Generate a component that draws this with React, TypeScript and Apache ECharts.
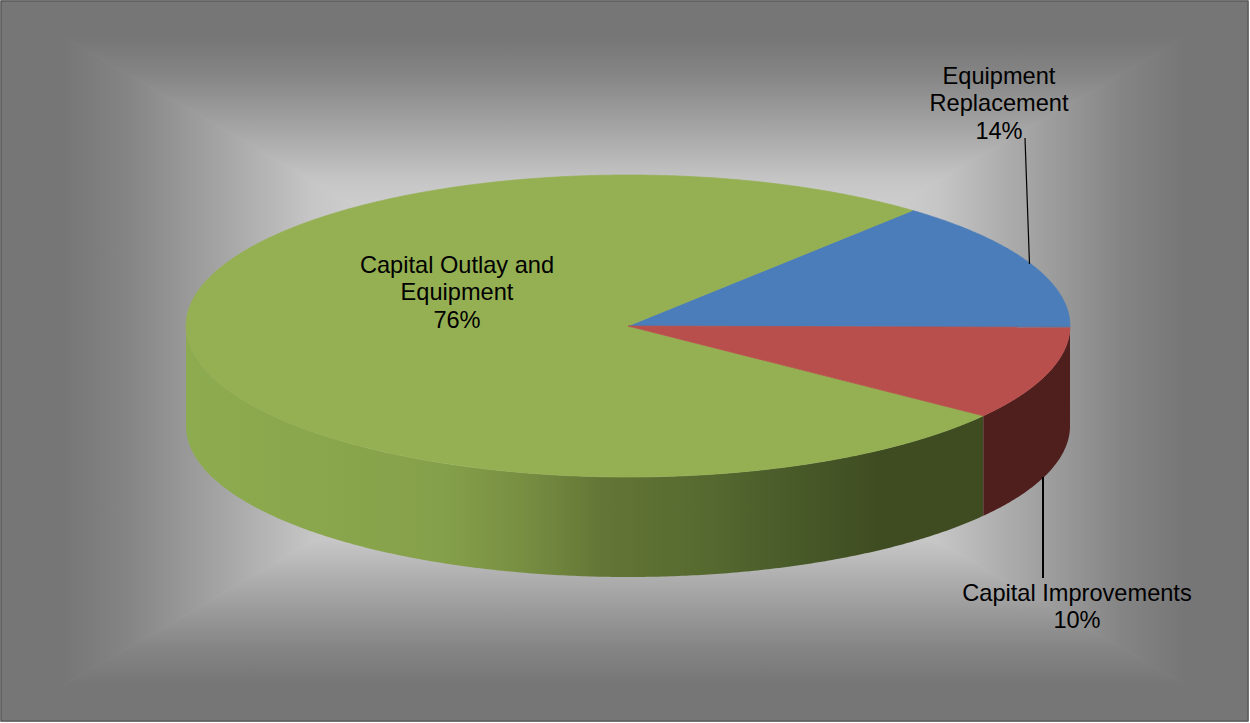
import React, { useEffect, useRef } from "react";
import * as echarts from "echarts";

// Budget shares, in percent, in counter-clockwise drawing order from 3 o'clock.
const categories = ["Equipment\nReplacement", "Capital Outlay and\nEquipment", "Capital Improvements"];
const shares = [14, 76, 10];
const topColors = ["#4a7db9", "#95b053", "#b94f4c"];

const WIDTH = 1250;
const HEIGHT = 723;

// Disc geometry
const CX = 628;
const CY = 326;
const RX = 442;
const RY = 151;
const DEPTH = 100;
const START_ANGLE = -0.5;

// Label anchors (centre x, top of the text block)
const labelAnchors = [
  { x: 999, y: 62 },
  { x: 457, y: 251 },
  { x: 1077, y: 579 },
];
const leaders = [
  { x1: 1025, y1: 138, x2: 1029.5, y2: 264, w: 1.2 },
  { x1: 1043, y1: 477, x2: 1043, y2: 578, w: 2 },
];

const FONT = "'Liberation Sans', Arial, sans-serif";

const rimPoint = (deg: number, drop = 0): number[] => {
  const t = (deg * Math.PI) / 180;
  return [CX + RX * Math.cos(t), CY - RY * Math.sin(t) + drop];
};

const arc = (from: number, to: number, drop = 0): number[][] => {
  const steps = Math.max(2, Math.ceil(Math.abs(to - from) * 2));
  const out: number[][] = [];
  for (let i = 0; i <= steps; i++) out.push(rimPoint(from + ((to - from) * i) / steps, drop));
  return out;
};

const grad = (x: number, y: number, x2: number, y2: number, stops: [number, string][]) =>
  new echarts.graphic.LinearGradient(
    x,
    y,
    x2,
    y2,
    stops.map(([offset, color]) => ({ offset, color })),
  );

// Rectangular backdrop: brightest in the middle, falling to dark grey at each edge.
const shadeStops: [number, string][] = [
  [0, "#767676"],
  [0.1, "#767676"],
  [0.2, "#848484"],
  [0.36, "#a6a6a6"],
  [0.5, "#c6c6c6"],
  [0.62, "#d2d2d2"],
  [1, "#e8e8e8"],
];

const backdrop = () => {
  const L = 1;
  const T = 1;
  const R = 1248;
  const B = 721;
  const MX = 625;
  const MY = 361;
  const tri = (pts: number[][], g: echarts.graphic.LinearGradient) => ({
    type: "polygon",
    silent: true,
    shape: { points: pts },
    style: { fill: g, stroke: g, lineWidth: 1 },
  });
  return [
    tri([[L, T], [R, T], [MX, MY]], grad(0, 0, 0, 1, shadeStops)),
    tri([[L, B], [R, B], [MX, MY]], grad(0, 1, 0, 0, shadeStops)),
    tri([[L, T], [L, B], [MX, MY]], grad(0, 0, 1, 0, shadeStops)),
    tri([[R, T], [R, B], [MX, MY]], grad(1, 0, 0, 0, shadeStops)),
    {
      type: "rect",
      silent: true,
      shape: { x: L, y: T, width: R - L, height: B - T },
      style: { fill: "transparent", stroke: "#5c5c5c", lineWidth: 1.5 },
    },
  ];
};

const renderSlice = (params: any, api: any) => {
  const i = params.dataIndex;
  const total = shares.reduce((a, b) => a + b, 0);
  const before = shares.slice(0, i).reduce((a, b) => a + b, 0);
  const start = START_ANGLE + (before / total) * 360;
  const end = start + ((api.value(0) as number) / total) * 360;

  const children: any[] = [];

  // Only the part of the rim facing the viewer (180 to 360 degrees) gets a wall.
  const wallFrom = Math.max(start, 180);
  const wallTo = Math.min(end, 360);
  if (wallTo > wallFrom) {
    const pts = [...arc(wallFrom, wallTo), ...arc(wallTo, wallFrom, DEPTH)];
    const isGreen = i === 1;
    children.push({
      type: "polygon",
      shape: { points: pts },
      style: {
        fill: isGreen
          ? grad(0, 0, 1, 0, [
              [0, "#8dab4f"],
              [0.18, "#8aa64c"],
              [0.32, "#85a04a"],
              [0.42, "#788f42"],
              [0.52, "#647636"],
              [0.65, "#566a30"],
              [0.75, "#4a5c2a"],
              [0.87, "#3f4c21"],
              [1, "#3f4c21"],
            ])
          : "#4f1f1e",
      },
    });
  }

  // Top face; the hairline stroke closes the seam between neighbouring slices.
  children.push({
    type: "polygon",
    shape: { points: [[CX, CY], ...arc(start, end)] },
    style: { fill: topColors[i], stroke: topColors[i], lineWidth: 0.7 },
  });

  return { type: "group", children };
};

// Labels sit above every slice, so they are a second pass over the same values.
const renderLabel = (params: any, api: any) => {
  const i = params.dataIndex;
  const a = labelAnchors[i];
  return {
    type: "text",
    style: {
      x: a.x,
      y: a.y,
      text: `${categories[i]}\n${api.value(0)}%`,
      fill: "#000000",
      fontSize: 23.6,
      fontFamily: FONT,
      lineHeight: 27.5,
      align: "center",
      verticalAlign: "top",
    },
  };
};

export default function App() {
  const ref = useRef<HTMLDivElement>(null);

  useEffect(() => {
    const chart = echarts.init(ref.current!, null, { renderer: "svg" });
    chart.setOption({
      animation: false,
      backgroundColor: "#ffffff",
      graphic: {
        elements: [
          ...backdrop().map((e) => ({ ...e, z: -10 })),
          ...leaders.map((l) => ({
            type: "line",
            silent: true,
            z: 10,
            shape: { x1: l.x1, y1: l.y1, x2: l.x2, y2: l.y2 },
            style: { stroke: "#000000", lineWidth: l.w },
          })),
        ],
      },
      series: [
        {
          type: "custom",
          coordinateSystem: "none",
          silent: true,
          z: 2,
          data: shares.map((v) => [v]),
          renderItem: renderSlice,
        },
        {
          type: "custom",
          coordinateSystem: "none",
          silent: true,
          z: 3,
          data: shares.map((v) => [v]),
          renderItem: renderLabel,
        },
      ],
    });
    return () => chart.dispose();
  }, []);

  return (
    <div
      ref={ref}
      style={{ position: "fixed", left: 0, top: 0, width: WIDTH, height: HEIGHT }}
    />
  );
}
